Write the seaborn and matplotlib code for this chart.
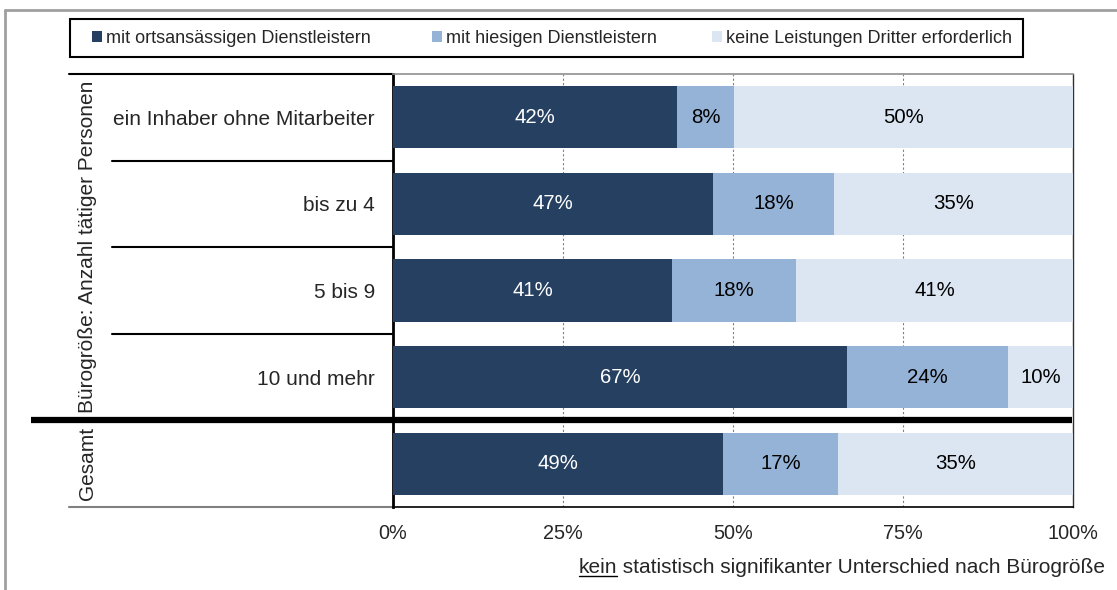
import numpy as np
import pandas as pd
import seaborn as sns
import matplotlib.pyplot as plt
from matplotlib.patches import Patch, Rectangle
from matplotlib.lines import Line2D

# categories (last row = Gesamt, no row label)
rows = ['ein Inhaber ohne Mitarbeiter', 'bis zu 4', '5 bis 9', '10 und mehr', '']
series = ['mit ortsansässigen Dienstleistern', 'mit hiesigen Dienstleistern',
          'keine Leistungen Dritter erforderlich']
ortsansaessig = [41.8, 47.1, 41.0, 66.8, 48.6]
hiesig = [8.3, 17.8, 18.3, 23.6, 16.8]
keine = [49.9, 35.1, 40.7, 9.6, 34.6]
colors = ['#264061', '#95B3D7', '#DCE6F2']
text_colors = ['white', 'black', 'black']
ticks = [0, 25, 50, 75, 100]
tick_labels = ['0%', '25%', '50%', '75%', '100%']

sns.set_style('white')
plt.rcParams['font.family'] = ['Liberation Sans', 'DejaVu Sans']
fs = 15

df = pd.DataFrame({'row': rows, 'a': ortsansaessig, 'b': hiesig, 'c': keine})
df['cum1'] = df['a']
df['cum2'] = df['a'] + df['b']
df['cum3'] = df['a'] + df['b'] + df['c']

W, H = 1117, 590
fig = plt.figure(figsize=(W / 100, H / 100), dpi=100)
ax = fig.add_axes([393 / W, 83 / H, 680 / W, 433 / H])

# stacked bars: draw the cumulative totals from back to front
for col, c in zip(['cum3', 'cum2', 'cum1'], colors[::-1]):
    sns.barplot(data=df, x=col, y='row', order=rows, color=c, width=0.72,
                saturation=1, ax=ax, zorder=3, edgecolor='none')

for i in range(len(rows)):
    left = 0
    for v, tc in zip([df.a[i], df.b[i], df.c[i]], text_colors):
        ax.text(left + v / 2, i, f'{v:.0f}%', ha='center', va='center',
                color=tc, fontsize=14.7, zorder=4)
        left += v

ax.set_xlim(0, 100)
ax.set_ylim(4.5, -0.5)
ax.set_xticks(ticks)
ax.set_xticklabels(tick_labels)
ax.set_xlabel('')
ax.set_ylabel('')
ax.tick_params(axis='x', length=5, color='#808080', pad=7, labelsize=14.3)
ax.tick_params(axis='y', length=0, pad=13, labelsize=fs)
for x in [25, 50, 75]:
    ax.axvline(x, color='#808080', lw=0.8, ls=(0, (2, 2)), zorder=1)

ax.spines['top'].set_color('#909090')
ax.spines['top'].set_linewidth(1.2)
ax.spines['left'].set_color('black')
ax.spines['left'].set_linewidth(2)
ax.spines['bottom'].set_color('black')
ax.spines['bottom'].set_linewidth(1.2)
ax.spines['right'].set_color('#303030')
ax.spines['right'].set_linewidth(1)

# table lines in the label area
tr = ax.get_yaxis_transform()
ax.add_line(Line2D([-0.476, 0], [-0.5, -0.5], transform=tr, color='black', lw=1.5, clip_on=False))
for y in [0.5, 1.5, 2.5]:
    ax.add_line(Line2D([-0.413, 0], [y, y], transform=tr, color='black', lw=1.5, clip_on=False))
ax.add_line(Line2D([-0.532, 0.999], [3.5, 3.5], transform=tr, color='black', lw=4.5,
                   clip_on=False, zorder=5, solid_capstyle='butt'))
ax.add_line(Line2D([-0.476, 0], [4.5, 4.5], transform=tr, color='#808080', lw=1.5, clip_on=False))

ax.text(-0.449, 1.5, 'Bürogröße: Anzahl tätiger Personen', transform=tr, rotation=90,
        ha='center', va='center', fontsize=fs)
ax.text(-0.449, 4, 'Gesamt', transform=tr, rotation=90, ha='center', va='center', fontsize=fs)

# legend: one frame, three entries at their own positions
fig.add_artist(Rectangle((70 / W, 1 - 57 / H), 953 / W, 38 / H, transform=fig.transFigure,
                         fill=False, ec='black', lw=1.5))
for lab, c, x0 in zip(series, colors, [92, 432, 712]):
    fig.legend([Patch(facecolor=c, edgecolor='none')], [lab], loc='center left',
               bbox_to_anchor=(x0 / W, 1 - 38.5 / H), frameon=False, fontsize=13,
               handlelength=0.55, handleheight=0.55, handletextpad=0.25,
               borderpad=0, borderaxespad=0)

# outer frame (cropped on right and bottom)
fig.add_artist(Line2D([5 / W, 5 / W], [0, 1 - 10 / H], color='#A0A0A0', lw=2))
fig.add_artist(Line2D([5 / W, 1], [1 - 10 / H, 1 - 10 / H], color='#A0A0A0', lw=2))

# footnote with underlined "kein"
rest = fig.text(1105 / W, 1 - 573 / H, ' statistisch signifikanter Unterschied nach Bürogröße',
                ha='right', va='baseline', fontsize=fs)
fig.canvas.draw()
r = fig.canvas.get_renderer()
bb = rest.get_window_extent(r)
kein = fig.text(bb.x0 / fig.bbox.width, 1 - 573 / H, 'kein', ha='right', va='baseline', fontsize=fs)
kb = kein.get_window_extent(r)
fig.add_artist(Line2D([kb.x0 / fig.bbox.width, kb.x1 / fig.bbox.width],
                      [1 - 576 / H, 1 - 576 / H], color='black', lw=1))

fig.savefig('out.png', dpi=100)
